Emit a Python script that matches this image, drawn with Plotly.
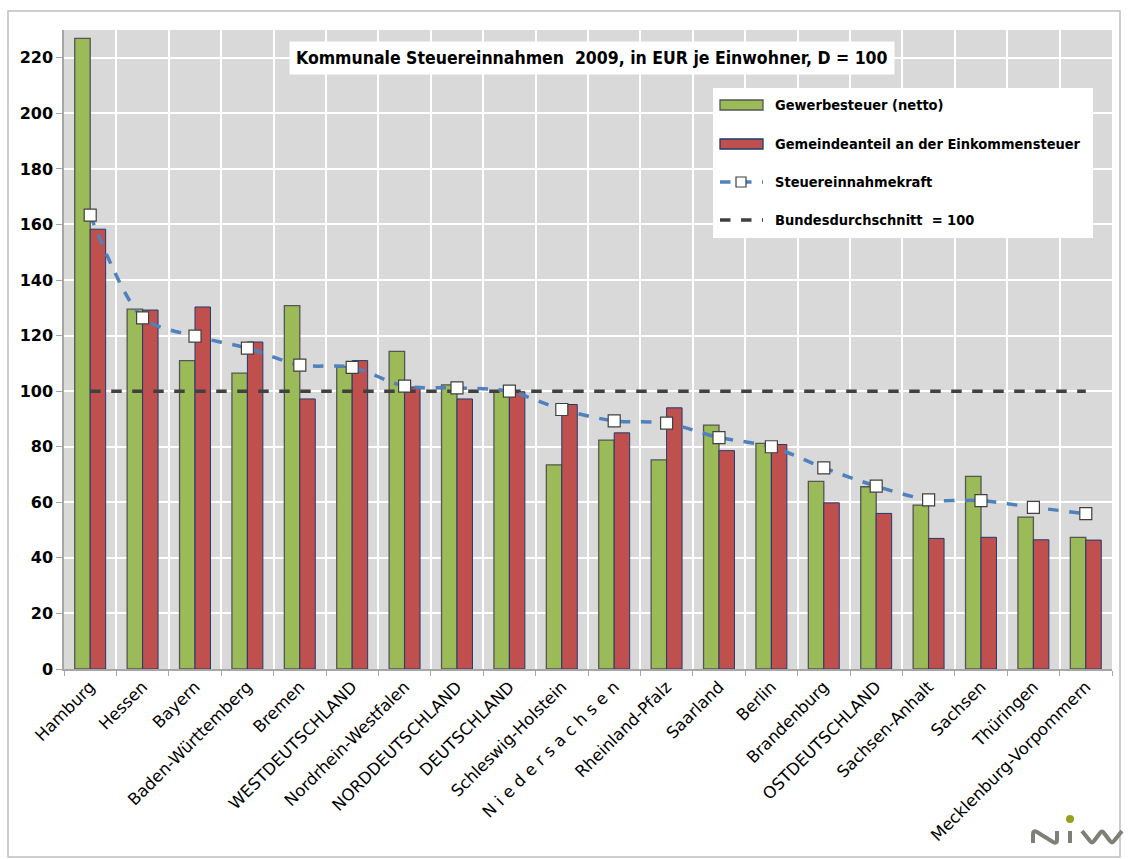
import plotly.graph_objects as go

# Kommunale Steuereinnahmen 2009 je Einwohner, Bundesdurchschnitt = 100
regionen = [
    "Hamburg", "Hessen", "Bayern", "Baden-Württemberg", "Bremen",
    "WESTDEUTSCHLAND", "Nordrhein-Westfalen", "NORDDEUTSCHLAND", "DEUTSCHLAND",
    "Schleswig-Holstein", "N i e d e r s a c h s e n", "Rheinland-Pfalz",
    "Saarland", "Berlin", "Brandenburg", "OSTDEUTSCHLAND", "Sachsen-Anhalt",
    "Sachsen", "Thüringen", "Mecklenburg-Vorpommern",
]
gewerbesteuer = [227.0, 129.5, 111.0, 106.5, 130.8, 108.8, 114.3, 102.3, 100.2,
                 73.5, 82.4, 75.3, 87.8, 81.2, 67.5, 65.6, 59.0, 69.3, 54.7, 47.4]
einkommensteuer = [158.3, 129.2, 130.3, 117.7, 97.2, 111.0, 101.5, 97.2, 99.8,
                   95.2, 85.0, 94.0, 78.6, 80.8, 59.8, 56.0, 47.0, 47.4, 46.5, 46.4]
steuerkraft = [163.4, 126.4, 119.8, 115.5, 109.4, 108.6, 101.8, 101.2, 100.0,
               93.4, 89.3, 88.5, 83.3, 80.0, 72.4, 65.8, 60.9, 60.6, 58.2, 55.9]
bundesdurchschnitt = [100] * len(regionen)

y_ticks = [0, 20, 40, 60, 80, 100, 120, 140, 160, 180, 200, 220]

legend_labels = [
    "Gewerbesteuer (netto)",
    "Gemeindeanteil an der Einkommensteuer",
    "Steuereinnahmekraft",
    "Bundesdurchschnitt  = 100",
]

TITLE = "Kommunale Steuereinnahmen  2009, in EUR je Einwohner, D = 100"

FONT = "DejaVu Sans"
FONT_C = "DejaVu Sans Condensed"

GREEN, GREEN_EDGE = "#9BBB59", "#555555"
RED, RED_EDGE = "#C0504D", "#1F3A6E"
BLUE = "#4F81BD"
DARK = "#404040"

fig = go.Figure()

fig.add_trace(go.Bar(
    x=regionen, y=gewerbesteuer, name=legend_labels[0],
    marker=dict(color=GREEN, line=dict(color=GREEN_EDGE, width=1.3)),
))
fig.add_trace(go.Bar(
    x=regionen, y=einkommensteuer, name=legend_labels[1],
    marker=dict(color=RED, line=dict(color=RED_EDGE, width=1)),
))
fig.add_trace(go.Scatter(
    x=regionen, y=bundesdurchschnitt, name=legend_labels[3],
    mode="lines", line=dict(color=DARK, width=3.5, dash="dash"),
))
fig.add_trace(go.Scatter(
    x=regionen, y=steuerkraft, name=legend_labels[2],
    mode="lines+markers",
    line=dict(color=BLUE, width=3.5, dash="dash", shape="spline", smoothing=0.8),
    marker=dict(symbol="square", size=12, color="white",
                line=dict(color=DARK, width=1.2)),
))

# pixel -> paper helpers for frame, legend box and logo
X0, X1, YB, YT = 64, 1112, 669, 30


def px(x):
    return (x - X0) / (X1 - X0)


def py(y):
    return (YB - y) / (YB - YT)


def rect(x0, y0, x1, y1, fill, line_color=None, line_width=0):
    return dict(type="rect", xref="paper", yref="paper",
                x0=px(x0), x1=px(x1), y0=py(y1), y1=py(y0),
                fillcolor=fill,
                line=dict(color=line_color or "rgba(0,0,0,0)", width=line_width))


def seg(x0, y0, x1, y1, color, width, dash="solid"):
    return dict(type="line", xref="paper", yref="paper",
                x0=px(x0), x1=px(x1), y0=py(y0), y1=py(y1),
                line=dict(color=color, width=width, dash=dash))


shapes = [
    dict(type="rect", xref="paper", yref="paper",
         x0=px(8), x1=px(1120), y0=py(857), y1=py(11),
         line=dict(color="#BFBFBF", width=1.5), fillcolor="rgba(0,0,0,0)", layer="below"),
]

# legend box
LX_SYM0, LX_SYM1, LX_TEXT = 720, 763, 773
row_y = [105, 144, 182, 220]
shapes.append(rect(713, 88, 1093, 238, "white"))
shapes.append(rect(LX_SYM0, row_y[0] - 5, LX_SYM1, row_y[0] + 5, GREEN, GREEN_EDGE, 1.3))
shapes.append(rect(LX_SYM0, row_y[1] - 5, LX_SYM1, row_y[1] + 5, RED, RED_EDGE, 1.3))
shapes.append(seg(LX_SYM0, row_y[2], LX_SYM1, row_y[2], BLUE, 3.5, "dash"))
shapes.append(rect(736, row_y[2] - 5, 746, row_y[2] + 5, "white", DARK, 1.2))
shapes.append(seg(LX_SYM0, row_y[3], LX_SYM1, row_y[3], DARK, 3.5, "dash"))

# NIW logo
logo_strokes = [
    [("M", 1033, 843), ("L", 1033, 834), ("Q", 1033, 830, 1037, 832),
     ("L", 1053, 842), ("Q", 1057, 844, 1057, 840), ("L", 1057, 831)],
    [("M", 1070, 831), ("L", 1070, 843)],
    [("M", 1082, 831), ("L", 1090, 841), ("Q", 1092, 844, 1094, 841),
     ("L", 1100, 833), ("Q", 1102, 830, 1104, 833), ("L", 1110, 841),
     ("Q", 1112, 844, 1114, 841), ("L", 1122, 831)],
]


def svg_path(pts):
    parts = []
    for p in pts:
        cmd, coords = p[0], p[1:]
        xy = [f"{px(coords[i]):.5f},{py(coords[i + 1]):.5f}"
              for i in range(0, len(coords), 2)]
        parts.append(cmd + " " + " ".join(xy))
    return " ".join(parts)


for pts in logo_strokes:
    shapes.append(dict(type="path", xref="paper", yref="paper", path=svg_path(pts),
                       line=dict(color="#7F7F77", width=4), fillcolor="rgba(0,0,0,0)"))
shapes.append(dict(type="circle", xref="paper", yref="paper",
                   x0=px(1066), x1=px(1074), y0=py(823), y1=py(815),
                   fillcolor="#9AA01E", line=dict(width=0)))

annotations = [dict(
    text=f"<b>{TITLE}</b>",
    xref="paper", yref="paper", x=px(592), y=py(58.5),
    xanchor="center", yanchor="middle", showarrow=False,
    font=dict(family=FONT_C, size=17.5, color="black"),
    bgcolor="white", borderpad=6,
)]
for label, yy in zip(legend_labels, row_y):
    annotations.append(dict(
        text=f"<b>{label}</b>", xref="paper", yref="paper",
        x=px(LX_TEXT), y=py(yy), xanchor="left", yanchor="middle",
        showarrow=False, font=dict(family=FONT_C, size=14.5, color="black"),
    ))

fig.update_layout(
    width=1128, height=859,
    margin=dict(l=X0, r=1128 - X1, t=YT, b=859 - YB),
    paper_bgcolor="white",
    plot_bgcolor="#D9D9D9",
    barmode="group",
    bargap=0.41,
    bargroupgap=0.0,
    font=dict(family=FONT, color="black"),
    showlegend=False,
    annotations=annotations,
    shapes=shapes,
    xaxis=dict(
        type="category", range=[-0.5, len(regionen) - 0.5], tickangle=-45,
        tickson="boundaries",
        showgrid=True, gridcolor="white", gridwidth=2,
        ticks="outside", ticklen=5, tickcolor="#A6A6A6",
        showline=True, linecolor="#A6A6A6", linewidth=1.5,
        tickfont=dict(family=FONT, size=16.5, color="black"),
    ),
    yaxis=dict(
        range=[0, 230], tickvals=y_ticks,
        showgrid=True, gridcolor="white", gridwidth=2,
        ticks="outside", ticklen=6, tickcolor="#A6A6A6",
        showline=True, linecolor="#A6A6A6", linewidth=1.5,
        zeroline=False,
        tickfont=dict(family=FONT, size=16, color="black", weight="bold"),
    ),
)

fig.write_html("out.html")
